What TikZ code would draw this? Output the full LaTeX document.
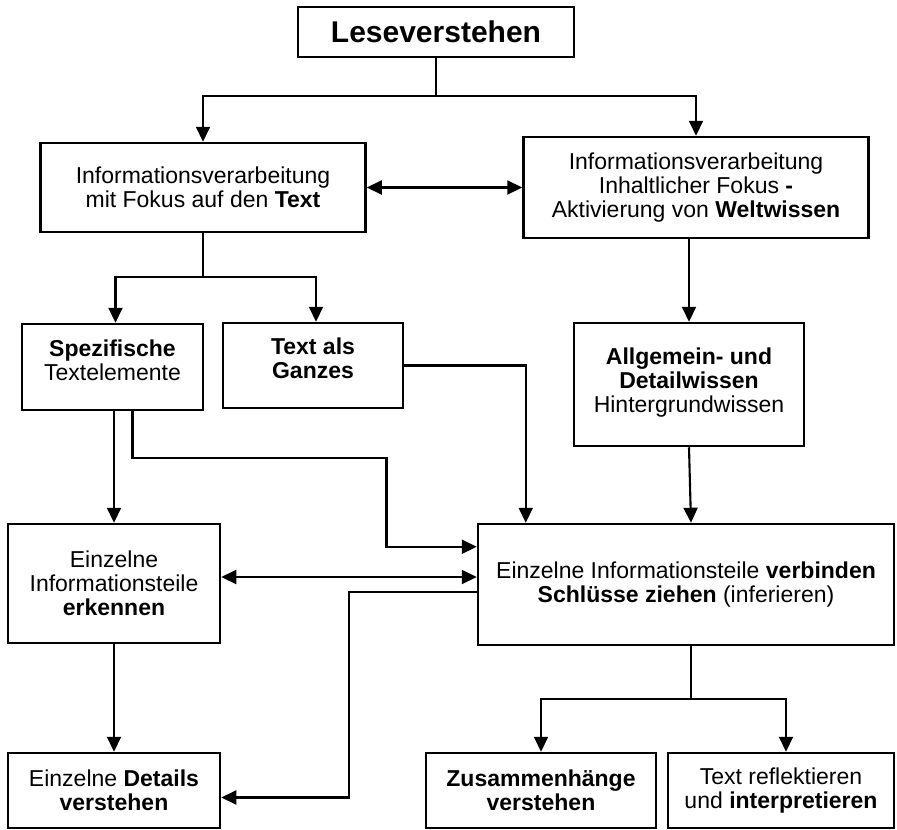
\documentclass[tikz,border=0pt]{standalone}
\usepackage{fontspec}
\setmainfont{Liberation Sans}
\usepackage{tikz}
\usetikzlibrary{positioning,arrows.meta,calc}
\tikzset{
  box/.style={draw=black, line width=2.5pt, fill=white, align=center,
              font=\fontsize{23}{24}\selectfont, inner sep=3pt},
  flow/.style={-{Triangle[length=15pt,width=14pt]}, line width=2.1pt, draw=black},
  twoway/.style={{Triangle[length=15pt,width=14pt]}-{Triangle[length=15pt,width=14pt]}, line width=2.1pt, draw=black},
  plain/.style={line width=2.1pt, draw=black},
}

\begin{document}
\begin{tikzpicture}[x=1pt, y=-1pt]
  \useasboundingbox (0,0) rectangle (897,830);
  % boxes
  \node[box, minimum width=276pt, minimum height=50pt, font=\fontsize{30}{32}\selectfont\bfseries] (lese) at (436,32) {Leseverstehen};
  \node[box, minimum width=325pt, minimum height=89pt] (txt) at (203,187.5) {Informationsverarbeitung\\mit Fokus auf den \textbf{Text}};
  \node[box, minimum width=345pt, minimum height=101pt] (welt) at (696,187.5) {Informationsverarbeitung\\Inhaltlicher Fokus \textbf{-}\\Aktivierung von \textbf{Weltwissen}};
  \node[box, minimum width=181pt, minimum height=86pt] (spez) at (112.5,367) {\textbf{Spezifische}\\Textelemente\\[-10pt]};
  \node[box, minimum width=180pt, minimum height=85pt] (ganz) at (313,365.5) {\textbf{Text als}\\\textbf{Ganzes}\\[-10pt]};
  \node[box, minimum width=230pt, minimum height=123pt] (wiss) at (689,384.5) {\textbf{Allgemein- und}\\\textbf{Detailwissen}\\Hintergrundwissen\\[-16pt]};
  \node[box, minimum width=212pt, minimum height=119pt] (erk) at (114,583.5) {Einzelne\\Informationsteile\\\textbf{erkennen}};
  \node[box, minimum width=416pt, minimum height=121pt] (verb) at (686,584.5) {Einzelne Informationsteile \textbf{verbinden}\\\textbf{Schlüsse ziehen} (inferieren)};
  \node[box, minimum width=212pt, minimum height=75pt] (det) at (114,790.5) {Einzelne \textbf{Details}\\\textbf{verstehen}};
  \node[box, minimum width=230pt, minimum height=75pt] (zus) at (541,790.5) {\textbf{Zusammenhänge}\\\textbf{verstehen}};
  \node[box, minimum width=226pt, minimum height=75pt] (refl) at (781,790.5) {Text reflektieren\\und \textbf{interpretieren}};
  % split points
  \coordinate (s1) at (lese.south |- 0,96);
  \coordinate (s2) at (txt.south |- 0,277);
  \coordinate (s3) at (691,699);
  % connectors
  \draw[plain] (lese.south) -- (s1);
  \draw[flow] (s1) -| (txt.north);
  \draw[flow] (s1) -| (welt.north);
  \draw[twoway] (txt.east) -- (welt.west);
  \draw[plain] (txt.south) -- (s2);
  \draw[flow] (s2) -| ([xshift=3pt]spez.north);
  \draw[flow] (s2) -| ([xshift=3pt]ganz.north);
  \draw[flow] (welt.south -| wiss.north) -- (wiss.north);
  \draw[flow] (wiss.south) -- ([xshift=2pt]wiss.south |- verb.north);
  \draw[flow] (ganz.east) -| ([xshift=49pt]verb.north west);
  \draw[flow] ([xshift=20pt]spez.south) -- ++(0,47) -- ++(254,0) |- ([yshift=-24pt]verb.north west);
  \draw[flow] ([xshift=1.5pt]spez.south) -- ([xshift=1.5pt]spez.south |- erk.north);
  \draw[twoway] ([yshift=6.5pt]erk.east) -- ([yshift=6.5pt]erk.east -| verb.west);
  \draw[flow] ([yshift=-7.5pt]verb.west) -- ++(-128,0) |- ([yshift=-7pt]det.east);
  \draw[flow] (erk.south) -- (det.north);
  \draw[plain] (verb.south -| s3) -- (s3);
  \draw[flow] (s3) -| (zus.north);
  \draw[flow] (s3) -| ([xshift=5pt]refl.north);
\end{tikzpicture}
\end{document}
